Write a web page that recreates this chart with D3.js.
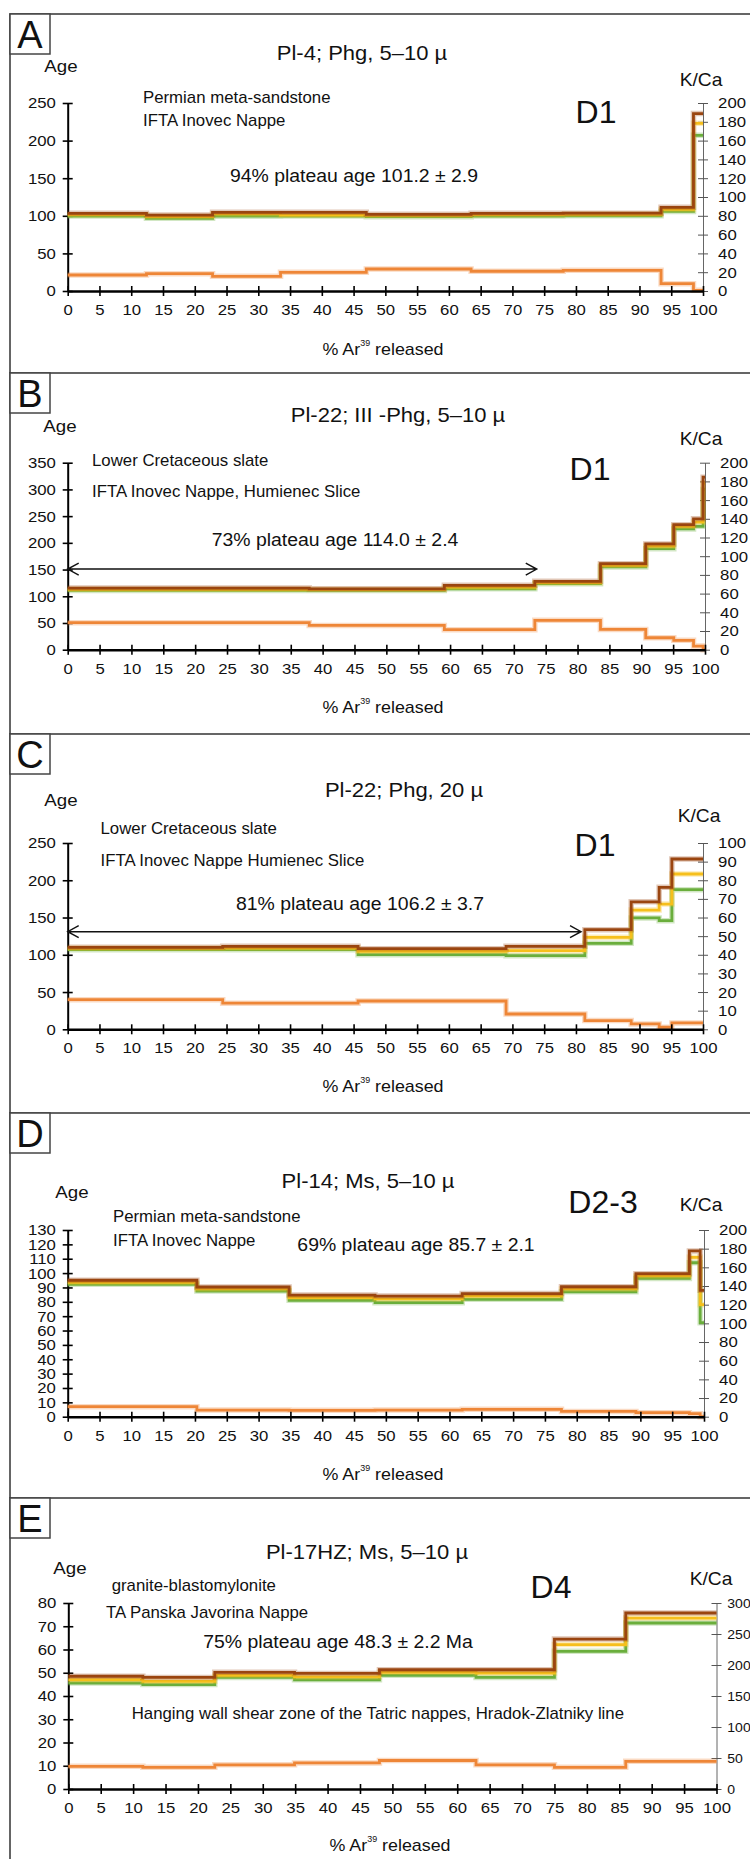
<!DOCTYPE html>
<html>
<head>
<meta charset="utf-8">
<script src="https://cdn.jsdelivr.net/npm/d3@7"></script>
<style>
  body { margin: 0; background: #fff; }
  text { font-family: "Liberation Sans", Arial, sans-serif; fill: #111; }
</style>
</head>
<body>
<script>
// ---- data (cumulative % 39Ar step boundaries, ages in Ma, K/Ca) ----
// Panel A: Pl-4
const aSteps = [0, 12.4, 22.8, 33.5, 47, 63.5, 78, 93.4, 98.5, 100]
const aAgeHi = [103.3, 101, 104.6, 104.6, 102, 103.3, 103.5, 111.3, 236]
const aAgeMid = [101.5, 99, 102.5, 101, 100.5, 101.5, 102, 108.5, 223]
const aAgeLo = [99.7, 96.6, 99.5, 99.7, 98.8, 99.7, 100, 105.8, 207]
const aKCa = [17, 18.4, 15.6, 19.9, 23.4, 21, 22, 7.8, 0.7]

// Panel B: Pl-22 Ill-Phg
const bSteps = [0, 37.9, 59.1, 73.3, 83.6, 90.7, 95.1, 98.2, 99.7, 100]
const bAgeHi = [115.4, 114, 120.4, 128, 161, 198, 234, 245, 323]
const bAgeMid = [113, 112.5, 117, 125.5, 158, 194, 231, 239, 312]
const bAgeLo = [111, 111, 114, 123.5, 155, 189, 226, 231, 300]
const bKCa = [28.9, 26, 21.4, 31.4, 21.7, 12.8, 10, 3.9, 0]
const bPlateau = [0, 73.6, 151]   // from %, to %, drawn at age

// Panel C: Pl-22 Phg 20 µ
const cSteps = [0, 24.4, 45.7, 69, 81.4, 88.7, 93.1, 95.1, 100]
const cAgeHi = [110, 111.4, 108.2, 111.4, 133.7, 171, 190.5, 228.5]
const cAgeMid = [108.7, 109, 104.6, 105.5, 123.4, 160, 168, 208.4]
const cAgeLo = [106.9, 106.9, 100.2, 98.8, 115.4, 149.4, 145.8, 187.4]
const cKCa = [15.9, 14, 15.2, 8.2, 4.7, 2.9, 1.1, 3.4]
const cPlateau = [0, 80.8, 131]

// Panel D: Pl-14
const dSteps = [0, 20.3, 34.8, 48.3, 62, 77.6, 89.3, 97.7, 99.4, 100]
const dAgeHi = [95, 90.3, 84.7, 84, 85.7, 90.5, 99.6, 115.4, 88]
const dAgeMid = [93.5, 89, 83, 82, 84, 89, 98, 111, 78]
const dAgeLo = [92.2, 87.5, 81, 79.4, 81.7, 87, 96.3, 107.2, 65.5]
const dKCa = [10.7, 7.1, 6.8, 7.1, 7.9, 5.7, 4.3, 3.2, 0]

// Panel E: Pl-17HZ
const eSteps = [0, 11.5, 22.6, 34.9, 48, 62.9, 75, 86, 100]
const eAgeHi = [48.5, 48, 50.2, 49.7, 51.3, 51.3, 64.5, 75.7]
const eAgeMid = [47, 46.3, 48.9, 48.2, 50.2, 49.9, 62.1, 73.5]
const eAgeLo = [45.6, 44.9, 48, 47, 48.9, 48, 59.2, 71.4]
const eKCa = [36.6, 35, 39, 42, 46, 39, 35, 44.6]

const xTicks = d3.range(0, 101, 5)

// ---- panel table: layout + text ----
let panels = [
  {
    letter: 'A', top: 14, bottom: 373,
    x0: 67.7, x1: 703, yb: 291, yt: 103,
    ageMax: 250, ageStep: 50, kMax: 200, kStep: 20, kSize: 15.5, kPad: 9,
    steps: aSteps, hi: aAgeHi, mid: aAgeMid, lo: aAgeLo, kca: aKCa,
    title: ['Pl-4; Phg, 5–10 µ', 362, 60],
    age: [61, 72], kcaLabel: [701, 86],
    notes: [['Permian meta-sandstone', 143, 103], ['IFTA Inovec Nappe', 143, 126]],
    dlabel: ['D1', 596, 123],
    plateauText: ['94% plateau age 101.2 ± 2.9', 354, 182],
    xtitle: [383, 355]
  },
  {
    letter: 'B', top: 373, bottom: 734,
    x0: 67.7, x1: 705, yb: 649.7, yt: 462.7,
    ageMax: 350, ageStep: 50, kMax: 200, kStep: 20, kSize: 15.5, kPad: 9,
    steps: bSteps, hi: bAgeHi, mid: bAgeMid, lo: bAgeLo, kca: bKCa, arrow: bPlateau,
    title: ['Pl-22; III -Phg, 5–10 µ', 398, 422],
    age: [60, 432], kcaLabel: [701, 445],
    notes: [['Lower Cretaceous slate', 92, 466], ['IFTA Inovec Nappe, Humienec Slice', 92, 497]],
    dlabel: ['D1', 590, 480],
    plateauText: ['73% plateau age 114.0 ± 2.4', 335, 546],
    xtitle: [383, 713]
  },
  {
    letter: 'C', top: 734, bottom: 1113,
    x0: 67.7, x1: 703, yb: 1029.3, yt: 843,
    ageMax: 250, ageStep: 50, kMax: 100, kStep: 10, kSize: 15.5, kPad: 9,
    steps: cSteps, hi: cAgeHi, mid: cAgeMid, lo: cAgeLo, kca: cKCa, arrow: cPlateau,
    title: ['Pl-22; Phg, 20 µ', 404, 797],
    age: [61, 806], kcaLabel: [699, 822],
    notes: [['Lower Cretaceous slate', 100.5, 834], ['IFTA Inovec Nappe Humienec Slice', 100.5, 866]],
    dlabel: ['D1', 595, 856],
    plateauText: ['81% plateau age 106.2 ± 3.7', 360, 910],
    xtitle: [383, 1092]
  },
  {
    letter: 'D', top: 1113, bottom: 1498,
    x0: 67.7, x1: 704, yb: 1416.7, yt: 1230,
    ageMax: 130, ageStep: 10, kMax: 200, kStep: 20, kSize: 15.5, kPad: 9,
    steps: dSteps, hi: dAgeHi, mid: dAgeMid, lo: dAgeLo, kca: dKCa,
    title: ['Pl-14; Ms, 5–10 µ', 368, 1188],
    age: [72, 1198], kcaLabel: [701, 1211],
    notes: [['Permian meta-sandstone', 113, 1222], ['IFTA Inovec Nappe', 113, 1246]],
    dlabel: ['D2-3', 603, 1213],
    plateauText: ['69% plateau age 85.7 ± 2.1', 416, 1251],
    xtitle: [383, 1480]
  },
  {
    letter: 'E', top: 1498, bottom: 1875,
    x0: 68.3, x1: 716.5, yb: 1789, yt: 1603,
    ageMax: 80, ageStep: 10, kMax: 300, kStep: 50, kSize: 13, kPad: 5,
    steps: eSteps, hi: eAgeHi, mid: eAgeMid, lo: eAgeLo, kca: eKCa,
    title: ['Pl-17HZ; Ms, 5–10 µ', 367, 1559],
    age: [70, 1574], kcaLabel: [711, 1585],
    notes: [['granite-blastomylonite', 111.7, 1591], ['TA Panska Javorina Nappe', 106, 1618],
      ['Hanging wall shear zone of the Tatric nappes, Hradok-Zlatniky line', 131.7, 1719]],
    dlabel: ['D4', 551, 1598],
    plateauText: ['75% plateau age 48.3 ± 2.2 Ma', 338, 1648],
    xtitle: [390, 1851]
  }
]

let colors = {
  lo: '#6aae3c',
  mid: '#f6bf1c',
  hi: '#9a4510',
  kca: '#ee8637'
}

let svg = d3.select('body')
  .append('svg')
  .attr('width', 750)
  .attr('height', 1859)

// text with a slight horizontal stretch like the scanned figure
function label(g, str, x, y, size, anchor, sx) {
  return g.append('text')
    .attr('transform', `translate(${x},${y}) scale(${sx || 1.1},1)`)
    .attr('text-anchor', anchor || 'start')
    .attr('font-size', size)
    .text(str)
}

function stepPoints(steps, vals) {
  let pts = vals.map((v, i) => [steps[i], v])
  pts.push([steps[steps.length - 1], vals[vals.length - 1]])
  return pts
}

panels.forEach(p => {
  let g = svg.append('g')

  // frame and letter box
  g.append('path')
    .attr('d', `M760,${p.top}H10V${p.bottom}`)
    .attr('fill', 'none')
    .attr('stroke', '#333')
    .attr('stroke-width', 1.5)
  g.append('rect')
    .attr('x', 10).attr('y', p.top)
    .attr('width', 40).attr('height', 40)
    .attr('fill', '#fff')
    .attr('stroke', '#444')
    .attr('stroke-width', 1.5)
  label(g, p.letter, 30, p.top + 34, 38, 'middle', 1)

  let x = d3.scaleLinear().domain([0, 100]).range([p.x0, p.x1])
  let yAge = d3.scaleLinear().domain([0, p.ageMax]).range([p.yb, p.yt])
  let yK = d3.scaleLinear().domain([0, p.kMax]).range([p.yb, p.yt])

  // right axis (K/Ca), grey
  let right = g.append('g')
    .attr('transform', `translate(${p.x1},0)`)
    .call(d3.axisRight(yK)
      .tickValues(d3.range(0, p.kMax + 1, p.kStep))
      .tickSize(5).tickSizeOuter(0).tickPadding(p.kPad))
    .attr('font-family', null).attr('font-size', null)
  right.select('.domain').attr('stroke', '#666').attr('stroke-width', 1)
  right.selectAll('.tick line').attr('x1', -5).attr('stroke', '#555')
  right.selectAll('.tick text').attr('font-size', p.kSize).attr('transform', 'scale(1.08,1)')

  // left axis (Age)
  let left = g.append('g')
    .attr('transform', `translate(${p.x0},0)`)
    .call(d3.axisLeft(yAge)
      .tickValues(d3.range(0, p.ageMax + 1, p.ageStep))
      .tickSize(5).tickSizeOuter(0).tickPadding(6))
    .attr('font-family', null).attr('font-size', null)
  left.select('.domain').attr('stroke', '#000').attr('stroke-width', 2)
  left.selectAll('.tick line').attr('x1', 5).attr('stroke', '#000').attr('stroke-width', 1.6)
  left.selectAll('.tick text').attr('font-size', 15.5).attr('transform', 'scale(1.08,1)')

  // step spectra: green (lower), yellow (mean), brown (upper), then K/Ca
  let series = [
    [p.lo, yAge, colors.lo],
    [p.mid, yAge, colors.mid],
    [p.hi, yAge, colors.hi],
    [p.kca, yK, colors.kca]
  ]
  series.forEach(([vals, ys, color]) => {
    let line = d3.line()
      .x(d => x(d[0]))
      .y(d => ys(d[1]))
      .curve(d3.curveStepAfter)
    let pts = stepPoints(p.steps, vals)
    g.append('path')
      .attr('d', line(pts))
      .attr('fill', 'none')
      .attr('stroke', color)
      .attr('stroke-opacity', 0.3)
      .attr('stroke-width', 5.5)
    g.append('path')
      .attr('d', line(pts))
      .attr('fill', 'none')
      .attr('stroke', color)
      .attr('stroke-width', 2.8)
  })

  // x axis
  let bottom = g.append('g')
    .attr('transform', `translate(0,${p.yb})`)
    .call(d3.axisBottom(x)
      .tickValues(xTicks)
      .tickSize(5).tickSizeOuter(0).tickPadding(8))
    .attr('font-family', null).attr('font-size', null)
  bottom.select('.domain').attr('stroke', '#000').attr('stroke-width', 2.4)
  bottom.selectAll('.tick line').attr('y1', -5).attr('stroke', '#000').attr('stroke-width', 1.6)
  bottom.selectAll('.tick text').attr('font-size', 15.5).attr('transform', 'scale(1.08,1)')

  // plateau arrow
  if (p.arrow) {
    let [from, to, level] = p.arrow
    let ya = yAge(level)
    let xa = x(from)
    let xb = x(to)
    g.append('path')
      .attr('d', `M${xa},${ya}H${xb}M${xa + 11},${ya - 6}L${xa},${ya}L${xa + 11},${ya + 6}M${xb - 11},${ya - 6}L${xb},${ya}L${xb - 11},${ya + 6}`)
      .attr('fill', 'none')
      .attr('stroke', '#111')
      .attr('stroke-width', 1.4)
  }

  // texts
  label(g, p.title[0], p.title[1], p.title[2], 20, 'middle')
  label(g, 'Age', p.age[0], p.age[1], 17, 'middle')
  label(g, 'K/Ca', p.kcaLabel[0], p.kcaLabel[1], 17.5, 'middle')
  p.notes.forEach(n => label(g, n[0], n[1], n[2], 16, 'start', 1.05))
  label(g, p.dlabel[0], p.dlabel[1], p.dlabel[2], 32, 'middle', 1)
  label(g, p.plateauText[0], p.plateauText[1], p.plateauText[2], 18.5, 'middle', 1.05)

  let xt = g.append('text')
    .attr('transform', `translate(${p.xtitle[0]},${p.xtitle[1]}) scale(1.05,1)`)
    .attr('text-anchor', 'middle')
    .attr('font-size', 17)
  xt.append('tspan').text('% Ar')
  xt.append('tspan').attr('font-size', 8.5).attr('dy', -9).text('39')
  xt.append('tspan').attr('dy', 9).text(' released')
})
</script>
</body>
</html>
